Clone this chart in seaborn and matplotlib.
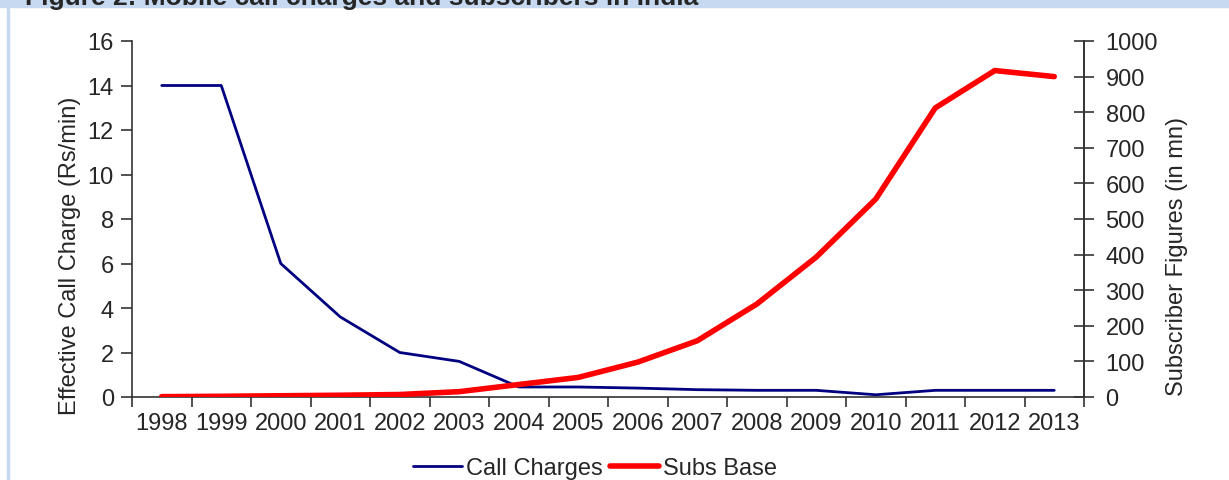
import numpy as np
import pandas as pd
import matplotlib.pyplot as plt
from matplotlib.lines import Line2D
from matplotlib.patches import Rectangle
import seaborn as sns

years = [str(y) for y in range(1998, 2014)]
call_charges = [14, 14, 6, 3.6, 2.0, 1.6, 0.45, 0.45, 0.4, 0.33, 0.3, 0.3, 0.1, 0.3, 0.3, 0.3]
subs_base = [1, 2, 3.5, 5, 7, 15, 35, 55, 98, 158, 261, 393, 556, 812, 917, 900]

df = pd.DataFrame({"Year": years, "Call Charges": call_charges, "Subs Base": subs_base})
df["pos"] = np.arange(len(years))

sns.set_theme(style="ticks")
plt.rcParams["font.family"] = ["Liberation Sans", "DejaVu Sans"]

fig = plt.figure(figsize=(12.29, 4.81), dpi=100)
ax = fig.add_axes([132 / 1229, 1 - 398 / 481, (1084 - 132) / 1229, (398 - 42) / 481])
ax2 = ax.twinx()

navy = "#000080"
red = "#FF0000"
sns.lineplot(data=df, x="pos", y="Call Charges", ax=ax, color=navy, linewidth=2, legend=False)
sns.lineplot(data=df, x="pos", y="Subs Base", ax=ax2, color=red, linewidth=4, legend=False)

n = len(years)
ax.set_xlim(-0.5, n - 0.5)
ax.set_ylim(0, 16)
ax2.set_ylim(0, 1000)
ax.set_yticks(range(0, 17, 2))
ax2.set_yticks(range(0, 1001, 100))

# category boundaries get the tick marks, labels sit at the centres
ax.set_xticks(np.arange(-0.5, n, 1.0))
ax.set_xticklabels([])
ax.set_xticks(np.arange(n), minor=True)
ax.set_xticklabels(years, minor=True)
ax.tick_params(axis="x", which="major", direction="out", length=7, width=1.2, color="#333333")
ax.tick_params(axis="x", which="minor", length=0, pad=11, labelsize=17)
ax.tick_params(axis="y", direction="out", length=8, width=1.2, color="#333333", labelsize=17, pad=5)
ax2.tick_params(axis="y", direction="inout", length=15, width=1.2, color="#333333", labelsize=17, pad=8)

ax.set_xlabel("")
ax.set_ylabel("Effective Call Charge (Rs/min)", fontsize=17)
ax2.set_ylabel("Subscriber Figures (in mn)", fontsize=17)
for a, xc in ((ax, (70 - 132) / 952), (ax2, (1177 - 132) / 952)):
    a.yaxis.label.set_va("center")
    a.yaxis.label.set_ha("center")
    a.yaxis.set_label_coords(xc, (398 - 256) / 356)

for a in (ax, ax2):
    a.spines["top"].set_visible(False)
    for s in ("left", "right", "bottom"):
        a.spines[s].set_color("#333333")
        a.spines[s].set_linewidth(1.2)
ax2.spines["left"].set_visible(False)
ax2.spines["bottom"].set_visible(False)

handles = [Line2D([], [], color=navy, linewidth=2), Line2D([], [], color=red, linewidth=4)]
fig.legend(handles, ["Call Charges", "Subs Base"], loc="center", bbox_to_anchor=(0.484, 0.025),
           ncol=2, frameon=False, fontsize=17, handlelength=2.1, handletextpad=0.15,
           columnspacing=0.3)

# header band and left border of the report frame
fig.patches.append(Rectangle((0, 1 - 8 / 481), 1, 8 / 481, transform=fig.transFigure,
                             color="#C6D9F1", zorder=0))
fig.patches.append(Rectangle((7 / 1229, 0), 2 / 1229, 1, transform=fig.transFigure,
                             color="#C6D9F1", zorder=0))
fig.text(25 / 1229, 1 - 5 / 481, "Figure 2: Mobile call charges and subscribers in India",
         fontsize=19, fontweight="bold", va="baseline", ha="left")

fig.savefig("out.png", dpi=100)
